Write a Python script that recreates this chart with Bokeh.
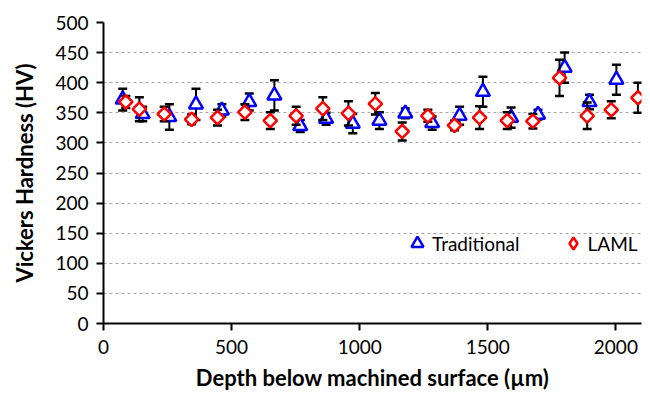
import numpy as np
from bokeh.plotting import figure
from bokeh.models import Range1d, FixedTicker, Legend, LegendItem, ColumnDataSource
from bokeh.embed import file_html
from bokeh.resources import INLINE

# Traditional series
trad_depth = [75, 153, 257, 361, 462, 569, 667, 768, 869, 973, 1077, 1178, 1283, 1390, 1481, 1591, 1696, 1800, 1897, 2002]
trad_hv    = [372, 348, 343, 364, 354, 368, 379, 328, 340, 332, 337, 349, 333, 345, 385, 342, 347, 425, 368, 405]
trad_err   = [18, 12, 21, 26, 10, 14, 25, 10, 10, 16, 14, 8, 11, 15, 25, 17, 8, 25, 12, 25]

# LAML series
laml_depth = [87, 140, 237, 344, 445, 552, 651, 752, 856, 956, 1061, 1166, 1266, 1370, 1468, 1576, 1676, 1780, 1888, 1982, 2086]
laml_hv    = [368, 356, 348, 339, 342, 351, 337, 345, 357, 349, 365, 319, 345, 329, 342, 337, 336, 408, 345, 355, 375]
laml_err   = [10, 20, 12, 8, 13, 13, 14, 15, 19, 20, 18, 15, 10, 8, 19, 14, 12, 30, 22, 14, 25]

x_ticks = [0, 500, 1000, 1500, 2000]
y_ticks = list(range(0, 501, 50))

FONT = "Lato"

p = figure(width=650, height=393, output_backend="svg", toolbar_location=None,
           x_range=Range1d(0, 2100), y_range=Range1d(0, 500))
p.min_border_left = 103
p.min_border_right = 9
p.min_border_top = 22
p.min_border_bottom = 70
p.outline_line_color = None
p.background_fill_color = "white"

p.xgrid.grid_line_color = None
p.ygrid.grid_line_color = "#a6a6a6"
p.ygrid.grid_line_dash = "3 3"
p.ygrid.grid_line_width = 1.2
p.ygrid.ticker = FixedTicker(ticks=y_ticks)

for ax in (p.xaxis[0], p.yaxis[0]):
    ax.axis_line_width = 2
    ax.axis_line_color = "black"
    ax.major_tick_line_width = 2
    ax.major_tick_line_color = "black"
    ax.major_tick_in = 0
    ax.major_tick_out = 7
    ax.minor_tick_line_color = None
    ax.major_label_text_font = FONT
    ax.major_label_text_font_size = "19px"
    ax.major_label_text_color = "black"
    ax.axis_label_text_font = FONT
    ax.axis_label_text_font_style = "bold"
    ax.axis_label_text_font_size = "22px"
    ax.axis_label_text_color = "black"

p.xaxis.ticker = FixedTicker(ticks=x_ticks)
p.yaxis.ticker = FixedTicker(ticks=y_ticks)
p.xaxis.axis_label = "Depth below machined surface (µm)"
p.yaxis.axis_label = "Vickers Hardness (HV)"
p.xaxis.major_label_standoff = 9
p.yaxis.major_label_standoff = 8
p.xaxis.axis_label_standoff = 7
p.yaxis.axis_label_standoff = 14


def add_series(xs, ys, errs, marker, color, size, angle, key_marker=None):
    xs = np.array(xs, dtype=float)
    ys = np.array(ys, dtype=float)
    errs = np.array(errs, dtype=float)
    src = ColumnDataSource(dict(x=xs, y=ys, lo=ys - errs, hi=ys + errs))
    p.segment(x0="x", y0="lo", x1="x", y1="hi", source=src, line_color="black", line_width=2)
    p.scatter(x="x", y="lo", source=src, marker="dash", size=9, line_color="black", line_width=2.5)
    p.scatter(x="x", y="hi", source=src, marker="dash", size=9, line_color="black", line_width=2.5)
    key = None
    if key_marker is not None:
        # zero-size copy used only as the legend key (legend sizes its key itself)
        key = p.scatter(x="x", y="y", source=src, marker=key_marker, size=0,
                        line_color=color, line_width=2.5, fill_color="white")
    r = p.scatter(x="x", y="y", source=src, marker=marker, size=size, angle=angle,
                  line_color=color, line_width=2.5, fill_color="white")
    return r, (key if key is not None else r)

r_trad, k_trad = add_series(trad_depth, trad_hv, trad_err, "triangle", "#0000ff", 14, 0)
r_laml, k_laml = add_series(laml_depth, laml_hv, laml_err, "square", "#ff0000", 9.5, np.pi / 4,
                            key_marker="diamond")

legend = Legend(items=[LegendItem(label="Traditional", renderers=[k_trad]),
                       LegendItem(label="LAML", renderers=[k_laml])],
                orientation="horizontal", location=(299, 65))
legend.background_fill_alpha = 0
legend.border_line_alpha = 0
legend.label_text_font = FONT
legend.label_text_font_size = "19px"
legend.label_text_color = "black"
legend.glyph_width = 30
legend.glyph_height = 30
legend.spacing = 38
legend.padding = 0
legend.margin = 0
legend.label_standoff = 0
p.add_layout(legend, "center")

open("out.html", "w").write(file_html(p, INLINE))
